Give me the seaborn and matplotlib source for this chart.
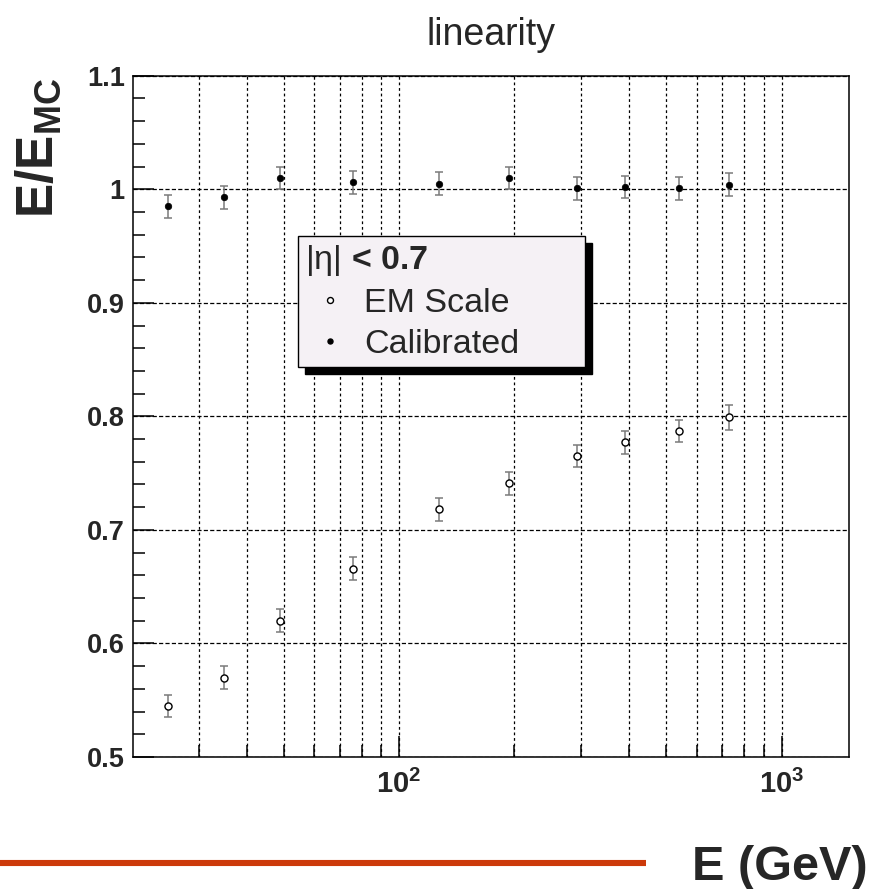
import numpy as np
import pandas as pd
import matplotlib
matplotlib.use("Agg")
import matplotlib.pyplot as plt
import seaborn as sns
from matplotlib.lines import Line2D
from matplotlib.ticker import FixedLocator, FixedFormatter, NullFormatter, MultipleLocator

# ---- data ----
energy = [25, 35, 49, 76, 127, 194, 292, 391, 538, 731]
em_scale = [0.545, 0.570, 0.620, 0.666, 0.718, 0.741, 0.765, 0.777, 0.787, 0.799]
em_err = [0.010, 0.010, 0.010, 0.010, 0.010, 0.010, 0.010, 0.010, 0.010, 0.011]
calibrated = [0.985, 0.993, 1.010, 1.006, 1.005, 1.010, 1.001, 1.002, 1.001, 1.004]
cal_err = [0.010, 0.010, 0.010, 0.010, 0.010, 0.010, 0.010, 0.010, 0.010, 0.010]

series_names = ["EM Scale", "Calibrated"]
legend_title = r"$\mathrm{|η|}$ < 0.7"
ytick_vals = [0.5, 0.6, 0.7, 0.8, 0.9, 1.0, 1.1]
ytick_labels = ["0.5", "0.6", "0.7", "0.8", "0.9", "1", "1.1"]
xtick_vals = [100, 1000]
xtick_labels = [r"$\mathbf{10^{2}}$", r"$\mathbf{10^{3}}$"]

sns.set_theme(style="white")
plt.rcParams["font.family"] = ["Liberation Sans", "DejaVu Sans"]
plt.rcParams["mathtext.fontset"] = "custom"
plt.rcParams["mathtext.rm"] = "Liberation Sans"
plt.rcParams["mathtext.it"] = "Liberation Sans:italic"
plt.rcParams["mathtext.bf"] = "Liberation Sans:bold"
plt.rcParams["lines.scale_dashes"] = False

fig = plt.figure(figsize=(8.72, 8.89), dpi=100)
ax = fig.add_axes([0.1525, 0.1485, 0.8211, 0.7663])

df_em = pd.DataFrame({"E": energy, "r": em_scale, "err": em_err})
df_cal = pd.DataFrame({"E": energy, "r": calibrated, "err": cal_err})

# error bars
ax.errorbar(df_em["E"], df_em["r"], yerr=df_em["err"], fmt="none",
            ecolor="#7a7a7a", elinewidth=1.1, capsize=2.6, capthick=1.1, zorder=3)
ax.errorbar(df_cal["E"], df_cal["r"], yerr=df_cal["err"], fmt="none",
            ecolor="#7a7a7a", elinewidth=1.1, capsize=2.6, capthick=1.1, zorder=3)

# markers
sns.scatterplot(data=df_em, x="E", y="r", ax=ax, marker="o", s=26,
                facecolor="white", edgecolor="black", linewidth=1.0,
                zorder=4, legend=False)
sns.scatterplot(data=df_cal, x="E", y="r", ax=ax, marker="o", s=22,
                color="black", edgecolor="black", linewidth=0.5,
                zorder=4, legend=False)

ax.set_xscale("log")
ax.set_xlim(20.2, 1500)
ax.set_ylim(0.5, 1.1)
ax.set_xlabel("")
ax.set_ylabel("")

ax.xaxis.set_major_locator(FixedLocator(xtick_vals))
ax.xaxis.set_major_formatter(FixedFormatter(xtick_labels))
ax.xaxis.set_minor_locator(FixedLocator([30, 40, 50, 60, 70, 80, 90,
                                         200, 300, 400, 500, 600, 700, 800, 900]))
ax.xaxis.set_minor_formatter(NullFormatter())
ax.yaxis.set_major_locator(FixedLocator(ytick_vals))
ax.yaxis.set_major_formatter(FixedFormatter(ytick_labels))
ax.yaxis.set_minor_locator(MultipleLocator(0.02))

ax.tick_params(axis="both", which="both", direction="in", color="black",
               width=1.1, top=False, right=False, bottom=True, left=True)
ax.tick_params(axis="x", which="major", length=15, pad=9, labelsize=21)
ax.tick_params(axis="x", which="minor", length=9)
ax.tick_params(axis="y", which="major", length=15, pad=6, labelsize=19.5)
ax.tick_params(axis="y", which="minor", length=8.5)
for lab in ax.get_yticklabels():
    lab.set_fontweight("bold")

ax.xaxis.grid(True, which="both", color="black", lw=0.9, ls=(0, (2, 2)))
ax.yaxis.grid(True, which="major", color="black", lw=0.9, ls=(0, (3, 1.6)))
ax.set_axisbelow(True)
for sp in ax.spines.values():
    sp.set_visible(True)
    sp.set_color("black")
    sp.set_linewidth(1.1)

handles = [
    Line2D([], [], ls="none", marker="o", ms=4.3, mfc="white", mec="black", mew=1.0),
    Line2D([], [], ls="none", marker="o", ms=3.6, mfc="black", mec="black"),
]
leg = ax.legend(handles=handles, labels=series_names, title=legend_title,
                loc="upper left", bbox_to_anchor=(0.2304, 0.5666, 0.4006, 0.1981),
                mode="expand", borderaxespad=0, fontsize=24.5,
                title_fontproperties={"weight": "bold", "size": 24.5},
                alignment="left", frameon=True, fancybox=False,
                edgecolor="black", facecolor="#f5f1f5", framealpha=1,
                shadow={"color": "black", "alpha": 1, "ox": 5, "oy": -5},
                borderpad=0.2, labelspacing=0.3, handletextpad=0.25,
                handlelength=1.5)
leg.get_frame().set_linewidth(1.0)
leg.set_zorder(10)

# texts around the axes
fig.text(0.563, 1 - 45 / 889, "linearity", ha="center", va="baseline", fontsize=27)
fig.text(0.044, 1 - 148 / 889, r"$\mathbf{E/E}_{\mathbf{MC}}$", ha="center", va="center",
         rotation=90, fontsize=37)
fig.text(868 / 872, 1 - 880 / 889, "E (GeV)", ha="right", va="baseline",
         fontsize=35, fontweight="bold")
fig.add_artist(Line2D([0, 646 / 872], [1 - 863 / 889, 1 - 863 / 889],
                      transform=fig.transFigure, color="#cc3a0a", lw=4.4,
                      solid_capstyle="butt"))

fig.savefig("out.png", dpi=100)
